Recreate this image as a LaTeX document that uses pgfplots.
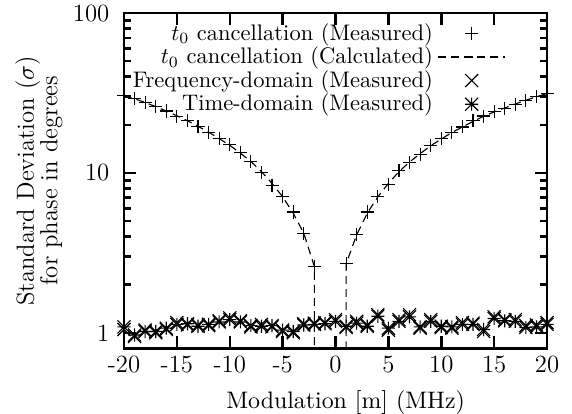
\documentclass[border=0pt]{standalone}
\usepackage{pgfplots}
\pgfplotsset{compat=1.18}
\usetikzlibrary{calc}
\pgfdeclareplotmark{gpx}{%
  \pgfpathmoveto{\pgfqpoint{-\pgfplotmarksize}{-\pgfplotmarksize}}%
  \pgfpathlineto{\pgfqpoint{\pgfplotmarksize}{\pgfplotmarksize}}%
  \pgfpathmoveto{\pgfqpoint{-\pgfplotmarksize}{\pgfplotmarksize}}%
  \pgfpathlineto{\pgfqpoint{\pgfplotmarksize}{-\pgfplotmarksize}}%
  \pgfusepathqstroke}
\pgfdeclareplotmark{gpstar}{%
  \pgfpathmoveto{\pgfqpoint{-\pgfplotmarksize}{-\pgfplotmarksize}}%
  \pgfpathlineto{\pgfqpoint{\pgfplotmarksize}{\pgfplotmarksize}}%
  \pgfpathmoveto{\pgfqpoint{-\pgfplotmarksize}{\pgfplotmarksize}}%
  \pgfpathlineto{\pgfqpoint{\pgfplotmarksize}{-\pgfplotmarksize}}%
  \pgfpathmoveto{\pgfqpoint{-\pgfplotmarksize}{0pt}}%
  \pgfpathlineto{\pgfqpoint{\pgfplotmarksize}{0pt}}%
  \pgfpathmoveto{\pgfqpoint{0pt}{-\pgfplotmarksize}}%
  \pgfpathlineto{\pgfqpoint{0pt}{\pgfplotmarksize}}%
  \pgfusepathqstroke}
\begin{document}
\begin{tikzpicture}
\begin{axis}[
  scale only axis, width=188pt, height=149pt,
  ymode=log, xmin=-20, xmax=20, ymin=0.8, ymax=100,
  xtick={-20,-15,...,20}, xticklabels={-20,-15,-10,-5,0,5,10,15,20},
  ytick={1,10,100}, yticklabels={1,10,100},
  ticklabel style={font=\fontsize{11}{13}\selectfont},
  yticklabel style={xshift=-3pt},
  axis line style={line width=1.1pt},
  tick style={black, line width=1.1pt},
  major tick length=5.3pt, minor tick length=3pt,
  xlabel={Modulation [m] (MHz)},
  ylabel={Standard Deviation ($\sigma$)\\[-3.2pt]for phase in degrees},
  ylabel style={align=center, at={(axis description cs:-0.201,0.5)}, anchor=center, font=\fontsize{11}{13.6}\selectfont},
  xlabel style={at={(axis description cs:0.524,-0.163)}, anchor=center, font=\fontsize{10.6}{13}\selectfont},
  legend style={draw=none, fill=none, at={(0.92,0.998)}, anchor=north east,
    legend cell align=right, row sep=-2.5pt},
  legend plot pos=right,
  legend image code/.code={\draw[mark repeat=2,mark phase=2,#1] plot coordinates {(0pt,0pt) (15pt,0pt) (30pt,0pt)};},
  every axis plot/.append style={black, line width=0.5pt},
  mark size=2.9pt,
]
\addplot[only marks, mark=+] coordinates {
(-20,30.6) (-19,29.2) (-18,27.5) (-17,25.9) (-16,24.4) (-15,22.6) (-14,21.3) (-13,19.5) (-12,18.0) (-11,16.4) (-10,15.0) (-9,13.5) (-8,11.8) (-7,10.1) (-6,8.4) (-5,7.1) (-4,5.7) (-3,4.2) (-2,2.6)
(1,2.7) (2,4.1) (3,5.7) (4,7.1) (5,8.5) (6,10.3) (7,11.6) (8,13.0) (9,14.8) (10,16.4) (11,17.9) (12,19.4) (13,21.3) (14,22.7) (15,24.1) (16,25.3) (17,26.8) (18,28.5) (19,29.9) (20,31.4)
};
\addlegendentry{$t_0$ cancellation (Measured)}
\addplot[no marks, dash pattern=on 3.5pt off 2.3pt] coordinates {
(-20,30.6) (-19,29.1) (-18,27.6) (-17,26.0) (-16,24.4) (-15,22.8) (-14,21.2) (-13,19.6) (-12,18.0) (-11,16.4) (-10,14.9) (-9,13.3) (-8,11.8) (-7,10.2) (-6,8.6) (-5,7.1) (-4,5.6) (-3,4.2) (-2,2.6) (-2,0.1)
};
\addlegendentry{$t_0$ cancellation (Calculated)}
\addplot[only marks, mark=gpx] coordinates {
(-20,1.05) (-19,0.95) (-18,1.04) (-17,1.0) (-16,1.05) (-15,1.16) (-14,1.12) (-13,1.12) (-12,1.11) (-11,1.19) (-10,1.24) (-9,1.19) (-8,1.09) (-7,1.13) (-6,1.09) (-5,1.02) (-4,1.0) (-3,1.14) (-2,1.15) (-1,1.16) (0,1.21) (1,1.08) (2,1.18) (3,1.12) (4,1.30) (5,1.04) (6,1.21) (7,1.30) (8,1.07) (9,1.21) (10,1.08) (11,1.07) (12,1.16) (13,1.15) (14,1.02) (15,1.26) (16,1.21) (17,1.21) (18,1.11) (19,1.12) (20,1.16)
};
\addlegendentry{Frequency-domain (Measured)}
\addplot[only marks, mark=gpstar] coordinates {
(-20,1.09) (-19,0.97) (-18,1.02) (-17,1.02) (-16,1.07) (-15,1.13) (-14,1.14) (-13,1.10) (-12,1.13) (-11,1.17) (-10,1.21) (-9,1.17) (-8,1.11) (-7,1.10) (-6,1.11) (-5,1.04) (-4,1.02) (-3,1.12) (-2,1.13) (-1,1.14) (0,1.18) (1,1.10) (2,1.15) (3,1.10) (4,1.27) (5,1.07) (6,1.18) (7,1.26) (8,1.09) (9,1.18) (10,1.10) (11,1.09) (12,1.13) (13,1.13) (14,1.05) (15,1.23) (16,1.19) (17,1.18) (18,1.08) (19,1.09) (20,1.13)
};
\addlegendentry{Time-domain (Measured)}
\addplot[no marks, dash pattern=on 3.5pt off 2.3pt, forget plot] coordinates {
(1,0.1) (1,2.7) (2,4.1) (3,5.6) (4,7.1) (5,8.6) (6,10.2) (7,11.7) (8,13.2) (9,14.8) (10,16.3) (11,17.9) (12,19.4) (13,21.0) (14,22.6) (15,24.1) (16,25.5) (17,27.0) (18,28.5) (19,30.0) (20,31.4)
};
\end{axis}
\pgfresetboundingbox
\path[use as bounding box] ($(current axis.south west)+(-55.1pt,-28.9pt)$) rectangle ($(current axis.north east)+(11.1pt,5.8pt)$);
\end{tikzpicture}
\end{document}
